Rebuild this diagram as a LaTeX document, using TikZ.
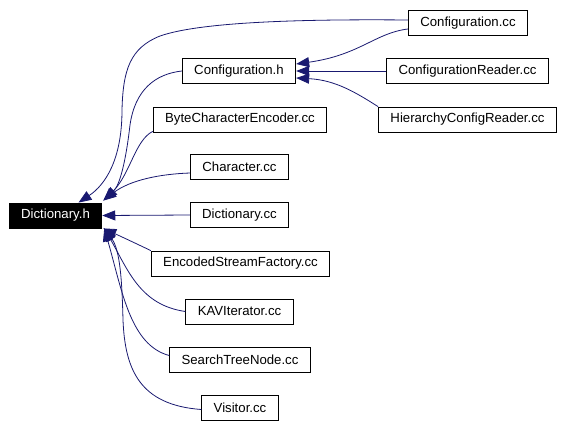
\documentclass[tikz,border=0pt]{standalone}
\usepackage{fontspec}
\setmainfont{Liberation Sans}
\usetikzlibrary{arrows.meta}
\definecolor{edgeblue}{RGB}{25,25,112}
\tikzset{
  filebox/.style={draw, line width=0.8pt, inner xsep=12pt, inner ysep=0pt,
    minimum height=25pt, font=\fontsize{13.2}{15}\selectfont},
  incl/.style={draw=edgeblue, line width=0.8pt,
    -{Triangle[length=13pt,width=10pt]}},
}
\begin{document}
\begin{tikzpicture}[x=1pt,y=-1pt]
\useasboundingbox (0,0) rectangle (564,426);
% files
\node[filebox, fill=black, text=white] (dicth) at (55.5,215.5) {Dictionary.h};
\node[filebox] (cfgh) at (239,71) {Configuration.h};
\node[filebox] (bytecenc) at (240,119.5) {ByteCharacterEncoder.cc};
\node[filebox] (charcc) at (239.5,167) {Character.cc};
\node[filebox] (dictcc) at (239.5,215) {Dictionary.cc};
\node[filebox] (encstream) at (240.5,263.5) {EncodedStreamFactory.cc};
\node[filebox] (kaviter) at (239.5,311.5) {KAVIterator.cc};
\node[filebox] (stnode) at (240,359.5) {SearchTreeNode.cc};
\node[filebox] (visitorcc) at (240,407.5) {Visitor.cc};
\node[filebox] (cfgcc) at (468,23) {Configuration.cc};
\node[filebox] (cfgreader) at (467.5,71) {ConfigurationReader.cc};
\node[filebox] (hiercfg) at (467.5,119.5) {HierarchyConfigReader.cc};
% includes of Configuration.h
\draw[incl] ([yshift=-6pt]cfgcc.west) .. controls (375,33) and (360,55) .. ([yshift=7pt]cfgh.east);
\draw[incl] (cfgreader.west) -- (cfgh.east);
\draw[incl] (hiercfg.north west) .. controls (355,92) and (335,80) .. ([yshift=-7pt]cfgh.east);
% includes of Dictionary.h
\draw[incl] ([yshift=3pt]cfgcc.west) .. controls (300,19) and (200,22) .. (160,36)
  .. controls (130,48) and (123,70) .. (122,110)
  .. controls (122,160) and (105,185) .. ([xshift=23pt]dicth.north);
\draw[incl] (cfgh.west) .. controls (155,74) and (135,90) .. (130,125)
  .. controls (126,160) and (120,185) .. ([shift={(2pt,3pt)}]dicth.north east);
\draw[incl] ([yshift=1pt]bytecenc.south west) .. controls (135,140) and (130,175) .. ([shift={(1pt,2pt)}]dicth.north east);
\draw[incl] ([yshift=-6pt]charcc.west) .. controls (160,174) and (130,180) .. ([shift={(1pt,2pt)}]dicth.north east);
\draw[incl] (dictcc.west) -- (dicth.east);
\draw[incl] (encstream.north west) .. controls (135,243) and (120,236) .. ([xshift=1pt]dicth.south east);
\draw[incl] (kaviter.west) .. controls (140,305) and (128,270) .. ([xshift=2pt]dicth.south east);
\draw[incl] ([yshift=4pt]stnode.west) .. controls (130,345) and (122,290) .. ([xshift=2pt]dicth.south east);
\draw[incl] ([yshift=-2pt]visitorcc.west) .. controls (140,405) and (125,370) .. (123,320)
  .. controls (122,280) and (120,250) .. ([xshift=2pt]dicth.south east);
\end{tikzpicture}
\end{document}
